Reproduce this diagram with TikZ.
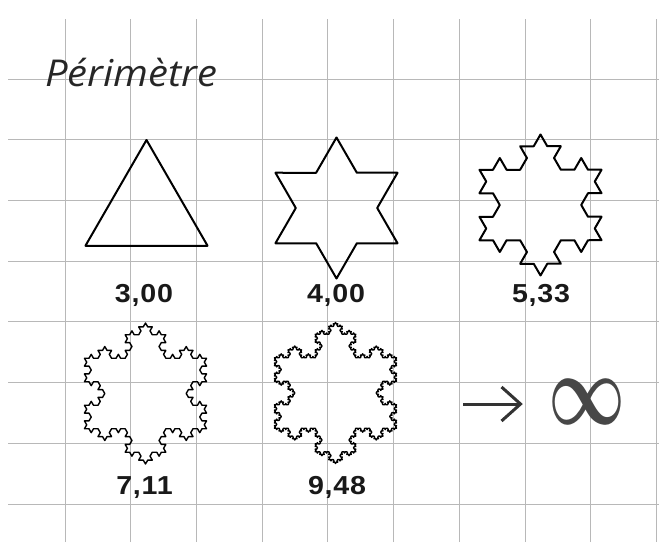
\documentclass[tikz,border=0pt]{standalone}
\usepackage{fontspec}
\usetikzlibrary{arrows.meta,decorations.fractals}
\newfontfamily\titlefont[FakeStretch=1.08]{Open Sans}
\newfontfamily\numfont[FakeStretch=1.1, LetterSpace=3]{Liberation Sans}

\begin{document}
\begin{tikzpicture}[
    x=1pt, y=1pt,
    paper/.style={draw=black!28, line width=0.7pt},
    title/.style={font=\titlefont\itshape\fontsize{37}{42}\selectfont, text=black!85, inner sep=0pt},
    perim/.style={font=\numfont\bfseries\fontsize{26}{30}\selectfont, text=black!90, inner sep=0pt},
    flake/.style={draw=black, line width=2pt, line join=round, line cap=round, decoration=Koch snowflake},
    fine flake/.style={flake, line width=1.4pt},
    limit/.style={-{Straight Barb[length=19pt, width=34pt]}, line width=3pt, draw=black!80}
  ]
    \useasboundingbox (0,0) rectangle (659,542);
    \draw[paper, shift={(65,38.1)}, xstep=65.7, ystep=60.7] (-57,-38.1) grid (594,484.9);

    \node[title, anchor=base west] (title) at (45,455) {Périmètre};

    \coordinate (k0) at (146.5,331.5);
    \coordinate (k1) at (336.5,334);
    \coordinate (k2) at (540.5,337);
    \coordinate (k3) at (145.5,148.5);
    \coordinate (k4) at (335.5,149);

    \draw[flake, shift={(k0)}] (90:70.5) -- (-30:70.5) -- (210:70.5) -- (90:70.5);
    \draw[flake, shift={(k1)}] decorate{(90:70.5) -- (-30:70.5) -- (210:70.5) -- (90:70.5)};
    \draw[flake, shift={(k2)}] decorate{decorate{(90:70.5) -- (-30:70.5) -- (210:70.5) -- (90:70.5)}};
    \draw[fine flake, shift={(k3)}] decorate{decorate{decorate{(90:70.5) -- (-30:70.5) -- (210:70.5) -- (90:70.5)}}};
    \draw[fine flake, shift={(k4)}] decorate{decorate{decorate{decorate{(90:70.5) -- (-30:70.5) -- (210:70.5) -- (90:70.5)}}}};

    \node[perim, anchor=base] (p0) at (144,240) {3,00};
    \node[perim, anchor=base] (p1) at (336,240) {4,00};
    \node[perim, anchor=base] (p2) at (541,240) {5,33};
    \node[perim, anchor=base] (p3) at (144.5,48) {7,11};
    \node[perim, anchor=base] (p4) at (337,48) {9,48};

    \node[inner sep=0pt, text=black!72] (inf) at (587,140) {\resizebox*{77pt}{45pt}{\boldmath$\infty$}};
    \coordinate (arrowtail) at (463,138);
    \draw[limit, shorten >=25.5pt] (arrowtail) -- (arrowtail -| inf.west);
  \end{tikzpicture}
\end{document}
